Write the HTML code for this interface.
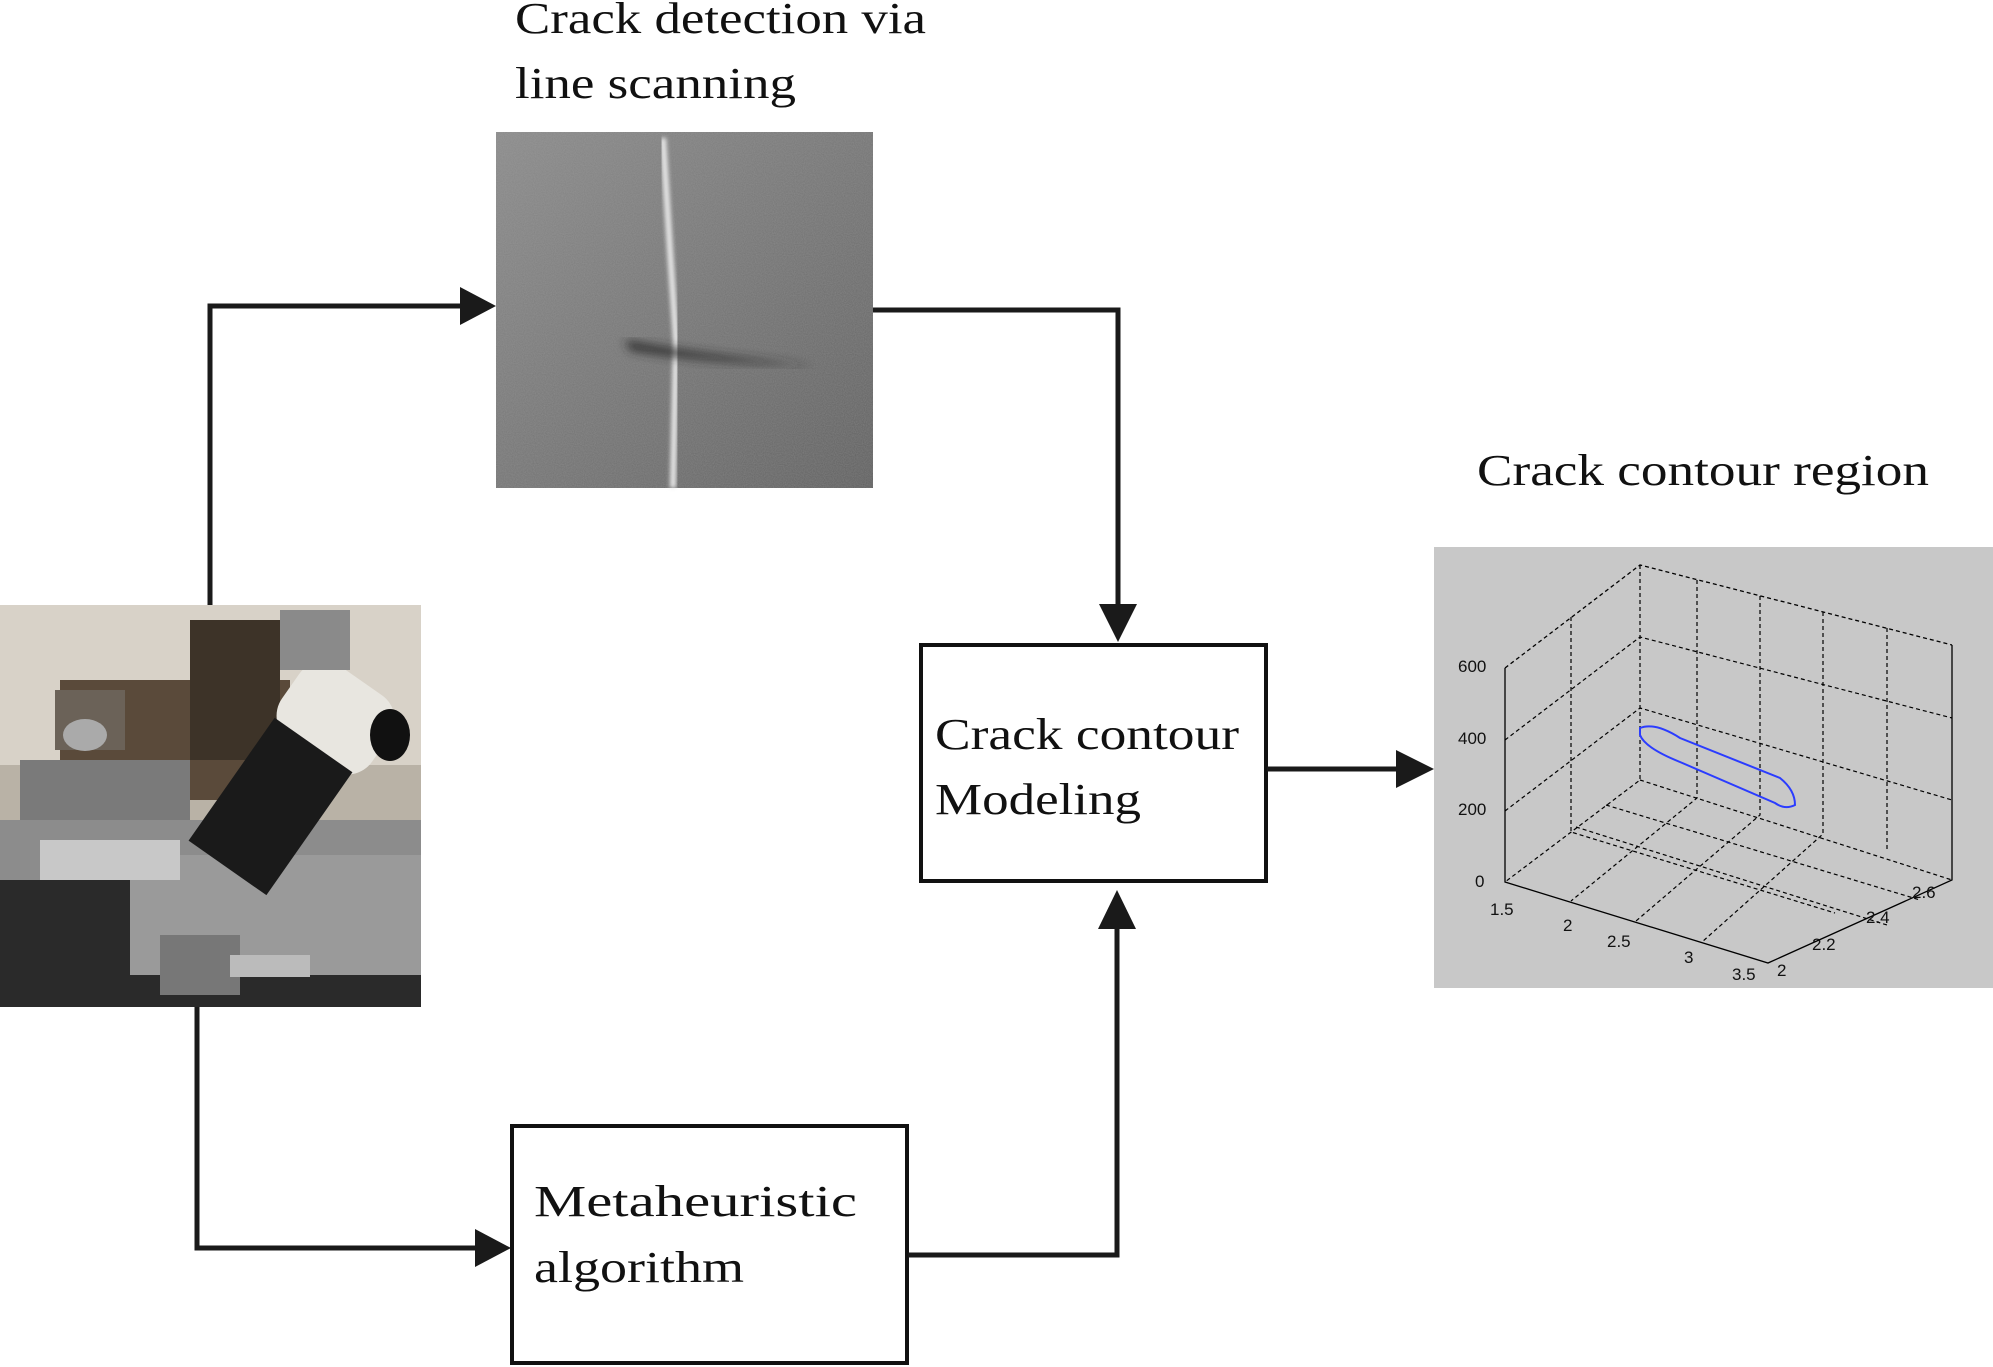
<!DOCTYPE html>
<html><head><meta charset="utf-8"><style>
html,body{margin:0;padding:0;background:#fff}
svg{display:block}
text{font-family:"Liberation Serif",serif;fill:#111}
</style></head><body>
<svg width="1993" height="1367" viewBox="0 0 1993 1367" xmlns="http://www.w3.org/2000/svg">
<defs>
<filter id="noise" x="0" y="0" width="100%" height="100%">
<feTurbulence type="fractalNoise" baseFrequency="0.9" numOctaves="2" seed="3"/>
<feColorMatrix type="matrix" values="0 0 0 0 0.45 0 0 0 0 0.45 0 0 0 0 0.45 0 0 0 0.35 0"/>
</filter>
<linearGradient id="cg" x1="0" y1="0" x2="1" y2="1">
<stop offset="0" stop-color="#8a8a8a"/><stop offset="1" stop-color="#5e5e5e"/>
</linearGradient>
<filter id="blur"><feGaussianBlur stdDeviation="2"/></filter>
<filter id="blur6"><feGaussianBlur stdDeviation="5"/></filter>
</defs>

<!-- titles -->
<text x="515" y="33" font-size="44" textLength="411" lengthAdjust="spacingAndGlyphs">Crack detection via</text>
<text x="515" y="98" font-size="44" textLength="281" lengthAdjust="spacingAndGlyphs">line scanning</text>
<text x="1477" y="485" font-size="44" textLength="452" lengthAdjust="spacingAndGlyphs">Crack contour region</text>

<!-- crack image -->
<rect x="496" y="132" width="377" height="356" fill="url(#cg)"/>
<rect x="496" y="132" width="377" height="356" filter="url(#noise)"/>
<path d="M663 138 L670 250 L676 340 L673 488" stroke="#e8e8e8" stroke-width="6" fill="none" filter="url(#blur)"/>
<path d="M625 340 Q680 352 815 366 Q700 362 630 350 Z" fill="#2a2a2a" filter="url(#blur6)"/>

<!-- photo -->
<rect x="0" y="605" width="421" height="402" fill="#b9b2a6"/>
<rect x="0" y="605" width="421" height="160" fill="#d8d2c8"/>
<rect x="0" y="880" width="421" height="127" fill="#2a2a2a"/>
<rect x="0" y="820" width="421" height="60" fill="#8c8c8c"/>
<rect x="130" y="855" width="291" height="120" fill="#9a9a9a"/>
<rect x="60" y="680" width="230" height="120" fill="#5a4a3a"/>
<rect x="190" y="620" width="90" height="140" fill="#3d3328"/>
<rect x="55" y="690" width="70" height="60" fill="#6b6258"/>
<rect x="20" y="760" width="170" height="60" fill="#7a7a7a"/>
<rect x="40" y="840" width="140" height="40" fill="#c8c8c8"/>
<g transform="rotate(35 300 760)">
<rect x="250" y="660" width="110" height="90" rx="30" fill="#e8e6e0"/>
<rect x="255" y="740" width="95" height="150" fill="#1a1a1a"/>
</g>
<rect x="280" y="610" width="70" height="60" fill="#8a8a8a"/>
<ellipse cx="390" cy="735" rx="20" ry="26" fill="#111"/>
<rect x="160" y="935" width="80" height="60" fill="#777"/>
<rect x="230" y="955" width="80" height="22" fill="#bbb"/>
<ellipse cx="85" cy="735" rx="22" ry="16" fill="#aaa"/>

<!-- plot -->
<rect x="1434" y="547" width="559" height="441" fill="#c8c8c8"/>
<g stroke="#000" stroke-width="1.3" fill="none">
<path d="M1505 668 L1505 882 L1768 963 L1952 880 L1952 645"/>
<path d="M1505 668 L1640 565 L1952 645" stroke-dasharray="4 3"/>
</g>
<g stroke="#000" stroke-width="1.2" fill="none" stroke-dasharray="4 3">
<path d="M1640 565 L1640 780 L1505 882"/>
<path d="M1640 780 L1952 880"/>
<path d="M1505 740 L1640 637 L1952 718"/>
<path d="M1505 811 L1640 708 L1952 800"/>
<path d="M1571 617 L1571 832 L1835 913"/>
<path d="M1697 580 L1697 798 L1571 901"/>
<path d="M1760 596 L1760 815 L1636 921"/>
<path d="M1823 612 L1823 834 L1702 942"/>
<path d="M1887 628 L1887 852"/>
<path d="M1576 827 L1887 925"/>
<path d="M1606 805 L1920 900"/>
</g>
<path d="M1640 728 Q1655 722 1680 738 L1780 778 Q1795 790 1795 805 Q1785 810 1775 803 L1680 762 Q1645 748 1640 735 Z" fill="none" stroke="#2b3cff" stroke-width="2"/>
<g font-size="17" fill="#111">
<text x="1458" y="672" style="font-family:'Liberation Sans',sans-serif">600</text>
<text x="1458" y="744" style="font-family:'Liberation Sans',sans-serif">400</text>
<text x="1458" y="815" style="font-family:'Liberation Sans',sans-serif">200</text>
<text x="1475" y="887" style="font-family:'Liberation Sans',sans-serif">0</text>
<text x="1490" y="915" style="font-family:'Liberation Sans',sans-serif">1.5</text>
<text x="1563" y="931" style="font-family:'Liberation Sans',sans-serif">2</text>
<text x="1607" y="947" style="font-family:'Liberation Sans',sans-serif">2.5</text>
<text x="1684" y="963" style="font-family:'Liberation Sans',sans-serif">3</text>
<text x="1732" y="980" style="font-family:'Liberation Sans',sans-serif">3.5</text>
<text x="1777" y="976" style="font-family:'Liberation Sans',sans-serif">2</text>
<text x="1812" y="950" style="font-family:'Liberation Sans',sans-serif">2.2</text>
<text x="1866" y="923" style="font-family:'Liberation Sans',sans-serif">2.4</text>
<text x="1912" y="898" style="font-family:'Liberation Sans',sans-serif">2.6</text>
</g>

<!-- boxes -->
<rect x="921" y="645" width="345" height="236" fill="#fff" stroke="#111" stroke-width="4"/>
<text x="935" y="749" font-size="44" textLength="304" lengthAdjust="spacingAndGlyphs">Crack contour</text>
<text x="935" y="814" font-size="44" textLength="206" lengthAdjust="spacingAndGlyphs">Modeling</text>
<rect x="512" y="1126" width="395" height="237" fill="#fff" stroke="#111" stroke-width="4"/>
<text x="534" y="1216" font-size="44" textLength="323" lengthAdjust="spacingAndGlyphs">Metaheuristic</text>
<text x="534" y="1282" font-size="44" textLength="210" lengthAdjust="spacingAndGlyphs">algorithm</text>

<!-- connectors -->
<g stroke="#1a1a1a" stroke-width="5" fill="none">
<path d="M210 605 L210 306 L462 306"/>
<path d="M873 310 L1118 310 L1118 605"/>
<path d="M1267 769 L1398 769"/>
<path d="M197 1007 L197 1248 L476 1248"/>
<path d="M908 1255 L1117 1255 L1117 928"/>
</g>
<g fill="#1a1a1a">
<polygon points="496,306 460,287 460,325"/>
<polygon points="1118,642 1099,604 1137,604"/>
<polygon points="1434,769 1396,750 1396,788"/>
<polygon points="511,1248 475,1229 475,1267"/>
<polygon points="1117,890 1098,929 1136,929"/>
</g>
</svg>
</body></html>
